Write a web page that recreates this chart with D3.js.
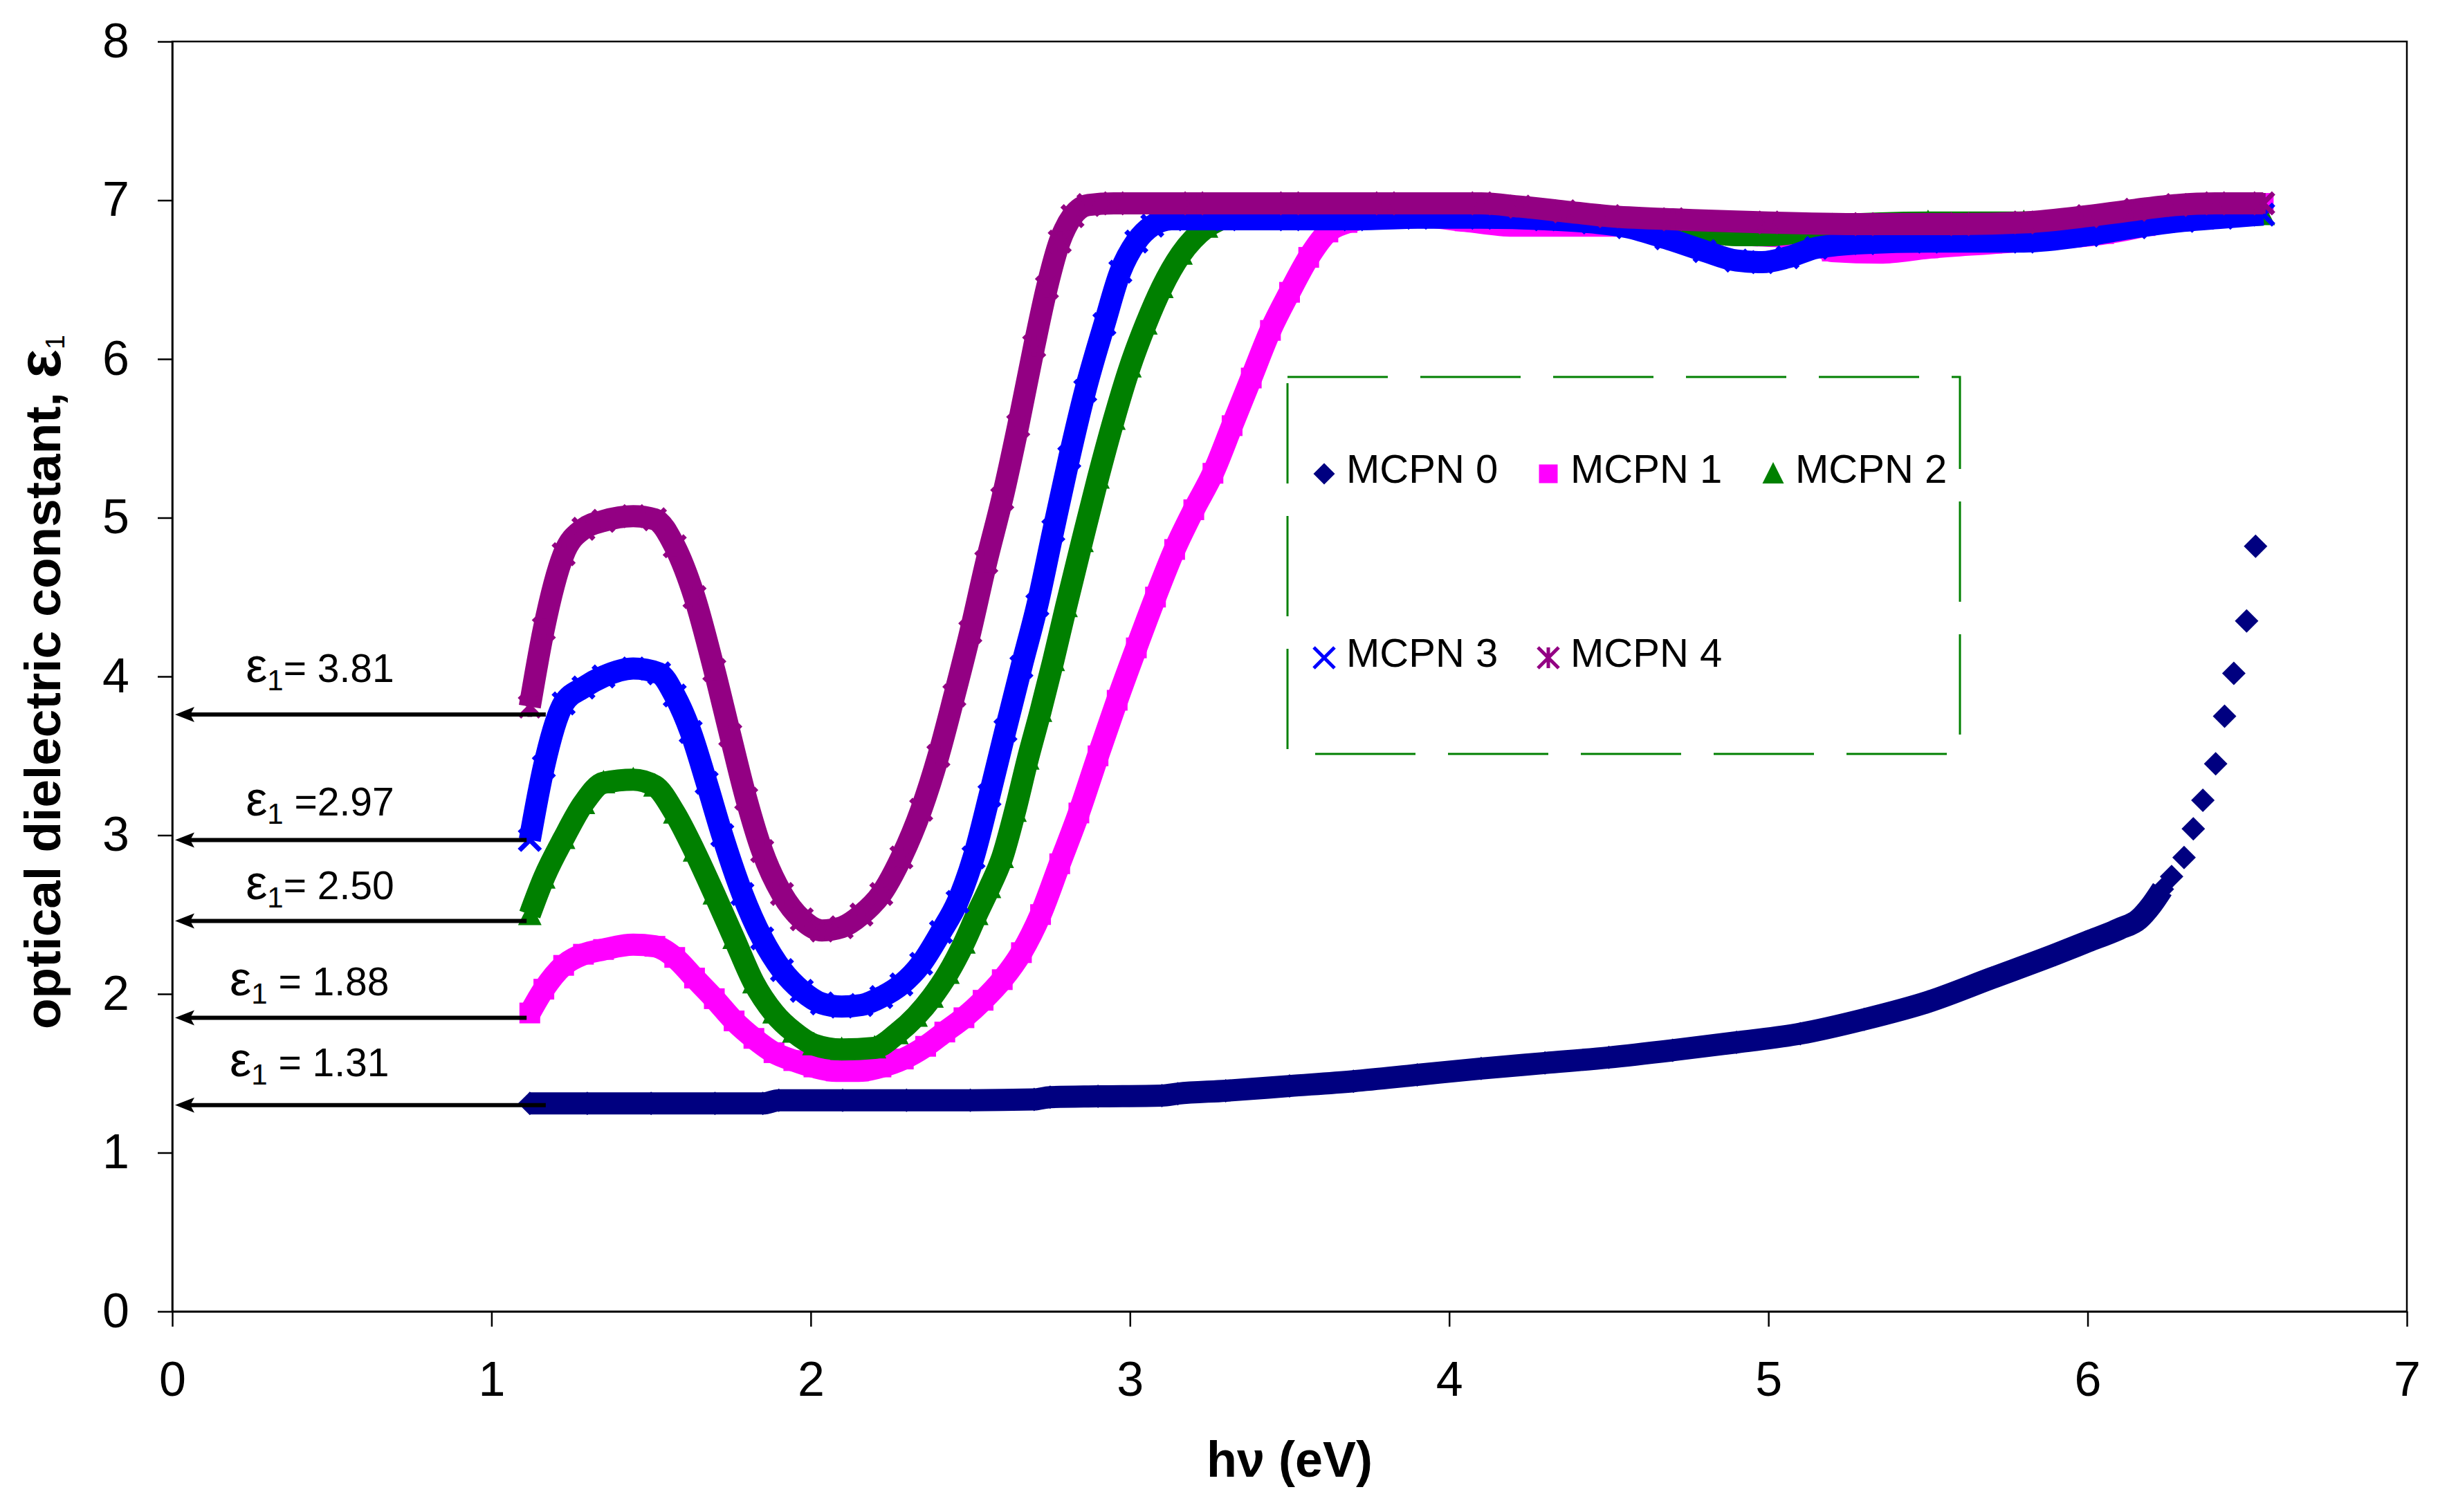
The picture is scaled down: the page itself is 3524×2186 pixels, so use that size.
<!DOCTYPE html>
<html>
<head>
<meta charset="utf-8">
<title>Optical dielectric constant</title>
<script src="https://d3js.org/d3.v7.min.js"></script>
<style>
  body { margin: 0; background: #fff; }
  svg { display: block; }
</style>
</head>
<body>
<div id="chart"></div>
<script>
// [hv (eV), epsilon_1]
const mcpn0 = [[1.12,1.31],[1.3,1.31],[1.5,1.31],[1.7,1.31],[1.85,1.31],[1.9,1.33],[2.1,1.33],[2.3,1.33],[2.5,1.33],
  [2.7,1.335],[2.75,1.35],[2.9,1.355],[3.1,1.36],[3.15,1.372],[3.3,1.39],[3.5,1.42],[3.7,1.45],[3.9,1.49],[4.1,1.53],
  [4.3,1.565],[4.5,1.60],[4.7,1.645],[4.9,1.695],[5.1,1.75],[5.3,1.84],[5.5,1.95],[5.7,2.10],[5.9,2.25],[6.0,2.33],
  [6.1,2.41],[6.16,2.47],[6.2,2.56],[6.234,2.66]];
// last points of MCPN 0 are far apart, they stand alone
const mcpn0Tail = [[6.263,2.74],[6.302,2.86],[6.331,3.04],[6.361,3.22],[6.401,3.45],[6.429,3.75],[6.458,4.02],
  [6.498,4.35],[6.526,4.82]];
const mcpn1 = [[1.12,1.88],[1.164,2.03],[1.226,2.18],[1.288,2.25],[1.351,2.28],[1.444,2.31],[1.512,2.30],[1.574,2.23],
  [1.636,2.10],[1.698,1.97],[1.76,1.83],[1.822,1.72],[1.885,1.63],[1.947,1.58],[2.01,1.54],[2.08,1.515],[2.15,1.515],
  [2.22,1.54],[2.29,1.59],[2.36,1.67],[2.42,1.76],[2.48,1.85],[2.54,1.96],[2.60,2.09],[2.66,2.26],[2.72,2.50],
  [2.78,2.82],[2.84,3.14],[2.90,3.50],[2.96,3.85],[3.02,4.18],[3.08,4.50],[3.14,4.80],[3.20,5.05],[3.26,5.28],
  [3.32,5.58],[3.38,5.88],[3.44,6.18],[3.50,6.42],[3.56,6.64],[3.62,6.80],[3.68,6.86],[3.76,6.89],[3.9,6.90],
  [4.05,6.87],[4.2,6.84],[4.4,6.84],[4.6,6.84],[4.75,6.80],[4.95,6.78],[5.12,6.76],[5.2,6.68],[5.35,6.67],
  [5.5,6.70],[5.7,6.73],[5.9,6.76],[6.05,6.79],[6.18,6.84],[6.3,6.91],[6.42,6.96],[6.55,6.98]];
const mcpn2 = [[1.12,2.50],[1.164,2.73],[1.226,2.98],[1.288,3.20],[1.351,3.33],[1.444,3.35],[1.512,3.31],[1.574,3.14],
  [1.636,2.90],[1.698,2.63],[1.76,2.35],[1.822,2.07],[1.885,1.88],[1.947,1.76],[2.01,1.68],[2.097,1.65],[2.20,1.66],
  [2.27,1.75],[2.33,1.86],[2.38,1.98],[2.43,2.13],[2.48,2.32],[2.52,2.50],[2.56,2.67],[2.60,2.86],[2.64,3.15],
  [2.68,3.48],[2.72,3.78],[2.76,4.10],[2.80,4.44],[2.85,4.85],[2.90,5.25],[2.95,5.62],[3.00,5.95],[3.05,6.22],
  [3.10,6.45],[3.16,6.66],[3.24,6.83],[3.31,6.90],[3.40,6.97],[3.46,6.92],[3.6,6.90],[3.8,6.90],[4.0,6.90],
  [4.2,6.89],[4.4,6.88],[4.6,6.86],[4.8,6.80],[4.9,6.78],[5.0,6.78],[5.1,6.80],[5.2,6.84],[5.5,6.86],[5.8,6.86],
  [6.1,6.87],[6.3,6.89],[6.55,6.91]];
const mcpn3 = [[1.12,2.97],[1.164,3.43],[1.226,3.83],[1.288,3.93],[1.351,4.00],[1.444,4.05],[1.525,4.02],[1.574,3.88],
  [1.624,3.65],[1.674,3.33],[1.723,3.00],[1.786,2.63],[1.848,2.35],[1.91,2.15],[1.972,2.02],[2.035,1.94],[2.097,1.92],
  [2.159,1.93],[2.221,1.98],[2.284,2.06],[2.346,2.19],[2.408,2.39],[2.46,2.58],[2.51,2.86],[2.56,3.25],[2.61,3.66],
  [2.66,4.06],[2.71,4.45],[2.76,4.92],[2.81,5.38],[2.86,5.80],[2.92,6.22],[2.97,6.55],[3.02,6.74],[3.07,6.84],
  [3.13,6.88],[3.3,6.88],[3.5,6.88],[3.7,6.88],[3.9,6.89],[4.1,6.89],[4.3,6.88],[4.45,6.86],[4.56,6.83],[4.68,6.76],
  [4.8,6.68],[4.9,6.62],[4.98,6.61],[5.06,6.64],[5.15,6.70],[5.3,6.73],[5.5,6.74],[5.8,6.74],[6.0,6.78],[6.15,6.83],
  [6.3,6.87],[6.42,6.89],[6.55,6.91]];
const mcpn4 = [[1.12,3.81],[1.164,4.30],[1.226,4.77],[1.288,4.93],[1.351,4.98],[1.444,5.01],[1.512,4.99],[1.574,4.82],
  [1.636,4.50],[1.698,4.04],[1.748,3.63],[1.798,3.23],[1.848,2.90],[1.91,2.63],[1.972,2.47],[2.035,2.40],[2.097,2.42],
  [2.159,2.50],[2.221,2.63],[2.284,2.86],[2.346,3.16],[2.40,3.50],[2.45,3.88],[2.50,4.28],[2.55,4.72],[2.60,5.12],
  [2.65,5.58],[2.70,6.08],[2.74,6.45],[2.78,6.74],[2.82,6.90],[2.87,6.97],[2.95,6.98],[3.2,6.98],[3.5,6.98],
  [3.8,6.98],[4.1,6.98],[4.22,6.96],[4.36,6.93],[4.5,6.90],[4.7,6.88],[5.0,6.86],[5.3,6.85],[5.6,6.85],[5.8,6.86],
  [6.0,6.90],[6.15,6.94],[6.28,6.97],[6.4,6.98],[6.55,6.98]];

const seriesNames = ["MCPN 0", "MCPN 1", "MCPN 2", "MCPN 3", "MCPN 4"];
const seriesColors = ["#000080", "#ff00ff", "#008000", "#0000ff", "#930083"];
const seriesShapes = ["diamond", "square", "triangle", "cross", "star"];

const xTicks = [0, 1, 2, 3, 4, 5, 6, 7];
const yTicks = [0, 1, 2, 3, 4, 5, 6, 7, 8];

// the ε1 call-outs and their arrows
const epsText = ["= 3.81", " =2.97", "= 2.50", " = 1.88", " = 1.31"];
const epsLabelX = [0.23, 0.23, 0.23, 0.18, 0.18];
const epsLabelY = [3.965, 3.124, 2.597, 1.991, 1.481];
const arrowY = [3.76, 2.97, 2.46, 1.85, 1.30];
const arrowTail = [1.17, 1.11, 1.11, 1.11, 1.17];

const W = 3524, H = 2186;
const margin = {top: 60, right: 45, bottom: 290, left: 249};
const w = W - margin.left - margin.right;
const h = H - margin.top - margin.bottom;
const font = "'Liberation Sans', Arial, sans-serif";

const svg = d3.select("#chart").append("svg")
    .attr("width", W).attr("height", H)
    .style("background", "#fff");
const g = svg.append("g")
    .attr("transform", "translate(" + margin.left + "," + margin.top + ")");

const x = d3.scaleLinear().domain([0, 7]).range([0, w]);
const y = d3.scaleLinear().domain([0, 8]).range([h, 0]);

// axes
const xAxis = d3.axisBottom(x).tickValues(xTicks).tickSize(22).tickSizeOuter(0).tickPadding(50).tickFormat(d3.format("d"));
const yAxis = d3.axisLeft(y).tickValues(yTicks).tickSize(21).tickSizeOuter(0).tickPadding(41).tickFormat(d3.format("d"));

g.append("g").attr("transform", "translate(0," + h + ")").call(xAxis);
g.append("g").call(yAxis);
g.selectAll(".tick text").attr("font-family", font).attr("font-size", "70px").attr("fill", "#000");
g.selectAll(".tick line").attr("stroke", "#000").attr("stroke-width", 2.5);
g.selectAll(".domain").attr("stroke", "#000").attr("stroke-width", 2.5);

// plot area frame (top and right)
g.append("rect")
    .attr("x", 0).attr("y", 0).attr("width", w).attr("height", h)
    .attr("fill", "none").attr("stroke", "#000").attr("stroke-width", 2.5);

// axis titles
g.append("text")
    .attr("x", w / 2).attr("y", h + 239)
    .attr("text-anchor", "middle")
    .attr("font-family", font).attr("font-size", "72px").attr("font-weight", "bold")
    .text("hν (eV)");

const yTitle = g.append("text")
    .attr("transform", "translate(" + (87 - margin.left) + "," + (h / 2 + 8) + ") rotate(-90)")
    .attr("text-anchor", "middle")
    .attr("font-family", font).attr("font-size", "73px").attr("font-weight", "bold");
yTitle.append("tspan").text("optical dielectric constant, ");
yTitle.append("tspan").attr("font-size", "88px").text("ε");
yTitle.append("tspan").attr("font-size", "38px").attr("font-weight", "normal").attr("dy", 6).text("1");

function symbolPath(shape, s) {
    const r = s / 2;
    if (shape === "diamond") return "M0," + (-r) + "L" + r + ",0L0," + r + "L" + (-r) + ",0Z";
    if (shape === "square") return "M" + (-r) + "," + (-r) + "h" + s + "v" + s + "h" + (-s) + "Z";
    if (shape === "triangle") return "M0," + (-s * 0.55) + "L" + r + "," + (s * 0.45) + "L" + (-r) + "," + (s * 0.45) + "Z";
    if (shape === "cross") return "M" + (-r) + "," + (-r) + "L" + r + "," + r + "M" + (-r) + "," + r + "L" + r + "," + (-r);
    // star: cross with a vertical bar
    return "M" + (-r) + "," + (-r) + "L" + r + "," + r + "M" + (-r) + "," + r + "L" + r + "," + (-r) + "M0," + (-r) + "L0," + r;
}
const markerSize = {diamond: 34, square: 30, triangle: 34, cross: 30, star: 30};

function drawMarkers(sel, data, i) {
    const shape = seriesShapes[i];
    const stroked = shape === "cross" || shape === "star";
    sel.selectAll("path.pt")
        .data(data)
        .enter()
        .append("path")
        .attr("class", "pt")
        .attr("transform", function(d) { return "translate(" + x(d[0]) + "," + y(d[1]) + ")"; })
        .attr("d", symbolPath(shape, markerSize[shape]))
        .attr("fill", stroked ? "none" : seriesColors[i])
        .attr("stroke", stroked ? seriesColors[i] : "none")
        .attr("stroke-width", stroked ? 7 : 0);
}

// the points are so dense in the original that they read as a thick band
const band = d3.line()
    .x(function(d) { return x(d[0]); })
    .y(function(d) { return y(d[1]); })
    .curve(d3.curveMonotoneX);

const allSeries = [mcpn0, mcpn1, mcpn2, mcpn3, mcpn4];
allSeries.forEach(function(data, i) {
    const sg = g.append("g");
    sg.append("path")
        .attr("d", band(data))
        .attr("fill", "none")
        .attr("stroke", seriesColors[i])
        .attr("stroke-width", 32)
        .attr("stroke-linejoin", "round");
    drawMarkers(sg, data, i);
    if (i === 0) drawMarkers(sg.append("g"), mcpn0Tail, 0);
});

// ε1 arrows to the y axis
const notes = g.append("g");
arrowY.forEach(function(v, i) {
    const yy = y(v), tip = x(0) + 4;
    notes.append("line")
        .attr("x1", x(arrowTail[i])).attr("x2", tip + 20)
        .attr("y1", yy).attr("y2", yy)
        .attr("stroke", "#000").attr("stroke-width", 6);
    notes.append("path")
        .attr("d", "M" + tip + "," + yy + "L" + (tip + 28) + "," + (yy - 11) + "L" + (tip + 22) + "," + yy +
              "L" + (tip + 28) + "," + (yy + 11) + "Z")
        .attr("fill", "#000");
    const t = notes.append("text")
        .attr("x", x(epsLabelX[i])).attr("y", y(epsLabelY[i]))
        .attr("font-family", font).attr("font-size", "57px");
    t.append("tspan").attr("font-size", "70px").text("ε");
    t.append("tspan").attr("font-size", "42px").attr("dy", 12).text("1");
    t.append("tspan").attr("dy", -12).text(epsText[i]);
});

// legend
const legend = svg.append("g");
legend.append("rect")
    .attr("x", 1861).attr("y", 545).attr("width", 972).attr("height", 545)
    .attr("fill", "none").attr("stroke", "#008000").attr("stroke-width", 3)
    .attr("stroke-dasharray", "145,47");
const legendPos = [[1914, 685], [2238, 685], [2563, 685], [1914, 951], [2238, 951]];
seriesNames.forEach(function(name, i) {
    const shape = seriesShapes[i];
    const stroked = shape === "cross" || shape === "star";
    const p = legendPos[i];
    legend.append("path")
        .attr("transform", "translate(" + p[0] + "," + p[1] + ")")
        .attr("d", symbolPath(shape, stroked ? 30 : markerSize[shape] - 3))
        .attr("fill", stroked ? "none" : seriesColors[i])
        .attr("stroke", stroked ? seriesColors[i] : "none")
        .attr("stroke-width", stroked ? 5 : 0);
    legend.append("text")
        .attr("x", p[0] + 32).attr("y", p[1] + 13)
        .attr("font-family", font).attr("font-size", "58px")
        .text(name);
});
</script>
</body>
</html>
